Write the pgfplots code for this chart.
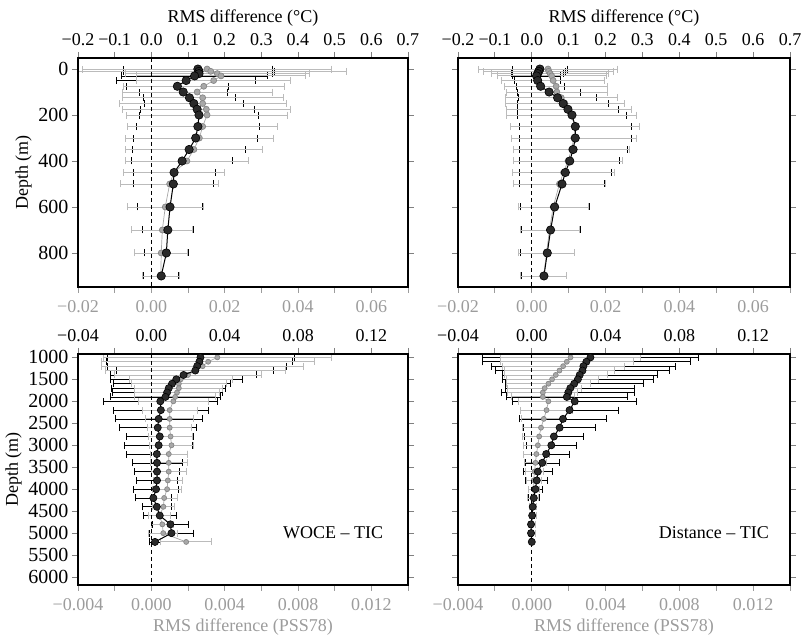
\documentclass[border=0pt]{standalone}
\usepackage{fontspec}
\setmainfont{Liberation Serif}
\usepackage{pgfplots}
\pgfplotsset{compat=1.18}
\usepackage{pgfplotstable}
\definecolor{lg}{HTML}{BBBBBB}
\definecolor{mg}{HTML}{A8A8A8}
\definecolor{tg}{HTML}{9C9C9C}
\definecolor{dk}{HTML}{2A2A2A}

% depth, temperature mean, temp error, salinity mean, salinity error
\pgfplotstableread{
d T Te S Se
0 0.127 0.203 0.0152 0.034
10 0.130 0.205 0.0162 0.037
20 0.130 0.200 0.0180 0.025
30 0.118 0.200 0.0190 0.023
50 0.095 0.190 0.0170 0.021
75 0.071 0.140 0.0143 0.022
100 0.087 0.120 0.0125 0.0205
125 0.104 0.125 0.0140 0.022
150 0.116 0.135 0.0140 0.0228
175 0.125 0.155 0.0150 0.023
200 0.130 0.163 0.0152 0.022
250 0.127 0.168 0.0140 0.0205
300 0.121 0.169 0.0131 0.0202
350 0.103 0.155 0.0116 0.0187
400 0.084 0.137 0.0097 0.0168
450 0.062 0.112 0.0062 0.0137
500 0.060 0.110 0.0050 0.0134
600 0.051 0.088 0.0038 0.0103
700 0.045 0.069 0.0030 0.0083
800 0.041 0.060 0.0027 0.0072
900 0.027 0.048 0.0026 0.0050
}\tabTL

\pgfplotstableread{
d T Te S Se
0 0.022 0.075 0.0044 0.0189
10 0.019 0.072 0.0046 0.0176
20 0.016 0.070 0.0050 0.0158
30 0.013 0.066 0.0054 0.0148
50 0.016 0.062 0.0058 0.0140
75 0.024 0.065 0.0066 0.0139
100 0.047 0.085 0.0068 0.0136
125 0.070 0.105 0.0080 0.0152
150 0.085 0.123 0.0090 0.0162
175 0.098 0.137 0.0100 0.0170
200 0.109 0.148 0.0107 0.0177
250 0.118 0.152 0.0117 0.0174
300 0.118 0.152 0.0114 0.0169
350 0.112 0.146 0.0108 0.0157
400 0.103 0.136 0.0098 0.0148
450 0.091 0.124 0.0086 0.0139
500 0.082 0.115 0.0075 0.0126
600 0.062 0.094 0.0058 0.0095
700 0.051 0.080 0.0048 0.0080
800 0.042 0.073 0.0040 0.0075
900 0.033 0.062 0.0032 0.0063
}\tabTR

\pgfplotstableread{
d T Te S Se
1000 0.0268 0.0510 0.0036 0.0062
1100 0.0262 0.0507 0.0031 0.0058
1200 0.0250 0.0487 0.0028 0.0055
1300 0.0240 0.0428 0.0024 0.0049
1400 0.0176 0.0400 0.0020 0.0040
1500 0.0136 0.0360 0.0016 0.0028
1600 0.0113 0.0320 0.0015 0.0026
1700 0.0095 0.0310 0.0015 0.0024
1800 0.0086 0.0300 0.0014 0.0023
1900 0.0077 0.0300 0.0013 0.0022
2000 0.0049 0.0310 0.0012 0.0019
2200 0.0052 0.0260 0.0010 0.0015
2400 0.0040 0.0237 0.0010 0.0013
2600 0.0035 0.0210 0.0010 0.0012
2800 0.0046 0.0184 0.00105 0.0012
3000 0.0040 0.0184 0.0011 0.0012
3200 0.0030 0.0168 0.00095 0.0010
3400 0.0031 0.0136 0.00095 0.0010
3600 0.0031 0.0122 0.00095 0.00095
3800 0.0031 0.0113 0.0009 0.0008
4000 0.0026 0.0123 0.00086 0.0008
4200 0.0011 0.0099 0.0007 0.0007
4400 0.0030 0.0080 0.00066 0.0006
4600 0.0046 0.0089 0.00045 0.0006
4800 0.0104 0.0096 0.0006 0.0006
5000 0.0110 0.0120 0.00065 0.0008
5200 0.0020 0.0030 0.0019 0.0014
}\tabBL

\pgfplotstableread{
d T Te S Se
1000 0.0318 0.0587 0.0021 0.0038
1100 0.0296 0.0564 0.0019 0.0036
1200 0.0280 0.0500 0.0017 0.0033
1300 0.0275 0.0470 0.0015 0.0030
1400 0.0260 0.0420 0.0013 0.0028
1500 0.0250 0.0410 0.0011 0.0025
1600 0.0230 0.0375 0.0009 0.0023
1700 0.0209 0.0350 0.0007 0.0020
1800 0.0198 0.0360 0.0006 0.0019
1900 0.0190 0.0330 0.0006 0.0017
2000 0.0233 0.0336 0.0009 0.0016
2200 0.0205 0.0264 0.0008 0.0014
2400 0.0169 0.0236 0.00065 0.0012
2600 0.0151 0.0196 0.0005 0.0010
2800 0.0120 0.0158 0.0004 0.0009
3000 0.0106 0.0136 0.00033 0.0008
3200 0.0078 0.0124 0.00025 0.0007
3400 0.0057 0.0094 0.0002 0.0006
3600 0.0033 0.0078 0.00015 0.0005
3800 0.0027 0.0060 0.0001 0.0004
4000 0.0020 0.0040 0.0001 0.0003
4200 0.0011 0.0028 0.00005 0.0003
4400 0.0005 0.0020 0.00005 0.0002
4600 0.0002 0.0015 0.00005 0.0002
4800 -0.0004 0.0010 0.0000 0.0002
5000 -0.0004 0.0008 0.0000 0.0002
5200 0.0000 0.0005 0.0000 0.0001
}\tabBR

\newcommand\fs{\fontsize{18}{21}\selectfont}
\newcommand\fy{\fontsize{20}{23}\selectfont}
\newcommand\fl{\fontsize{18}{21}\selectfont}

\pgfplotsset{
  base/.style={scale only axis, y dir=reverse, tick align=outside,
    major tick length=6pt, minor tick num=0, scaled ticks=false,
    tick style={line width=0.8pt},
    x tick label style={font=\fs}, y tick label style={font=\fy},
    label style={font=\fl}},
  toprow/.style={base, height=229pt, ymin=-48, ymax=948},
  botrow/.style={base, height=231pt, ymin=923, ymax=6180},
  lcol/.style={width=330pt},
  rcol/.style={width=332pt},
  % temperature axes
  Ttop/.style={xmin=-0.2, xmax=0.7},
  Tbot/.style={xmin=-0.04, xmax=0.14},
  % salinity axes
  Stop/.style={xmin=-0.02, xmax=0.07,
    xtick={-0.02,-0.01,0,0.01,0.02,0.03,0.04,0.05,0.06,0.07},
    xticklabels={−0.02,,0.00,,0.02,,0.04,,0.06,}},
  Sbot/.style={xmin=-0.004, xmax=0.014,
    xtick={-0.004,-0.002,0,0.002,0.004,0.006,0.008,0.010,0.012,0.014},
    xticklabels={−0.004,,0.000,,0.004,,0.008,,0.012,}},
  hidden/.style={hide axis},
  salax/.style={axis x line*=bottom, axis y line=none,
    x axis line style={draw=none},
    xtick style={draw=tg, line width=0.8pt},
    x tick label style={text=tg, yshift=-4pt},
    x label style={text=tg, yshift=-1pt}},
  mainax/.style={axis line style={line width=1.4pt},
    xtick pos=right, xticklabel pos=right, ytick pos=both, yticklabel pos=left,
    x tick label style={yshift=3pt}},
  Tticks top/.style={xtick={-0.2,-0.1,0,0.1,0.2,0.3,0.4,0.5,0.6,0.7},
    xticklabels={−0.2,−0.1,0.0,0.1,0.2,0.3,0.4,0.5,0.6,0.7}},
  Tticks bot/.style={xtick={-0.04,-0.02,0,0.02,0.04,0.06,0.08,0.10,0.12,0.14},
    xticklabels={−0.04,,0.00,,0.04,,0.08,,0.12,}},
  Yticks top/.style={ytick={0,200,400,600,800}},
  Yticks bot/.style={ytick={1000,1500,2000,2500,3000,3500,4000,4500,5000,5500,6000}},
  errT/.style={draw=none, mark=none, error bars/.cd, x dir=both, x explicit,
    error mark=|,
    error bar style={draw=black, line width=0.6pt},
    error mark options={draw=black, line width=0.9pt, mark size=3.5pt}},
  errS/.style={draw=none, mark=none, error bars/.cd, x dir=both, x explicit,
    error mark=|,
    error bar style={draw=lg, line width=0.9pt},
    error mark options={draw=lg, line width=0.9pt, mark size=3.5pt}},
  lineS/.style={draw=mg, line width=0.7pt, mark=*, mark size=3pt,
    mark options={fill=mg, draw=mg!80!black}},
  lineT/.style={draw=black, line width=1pt, mark=*, mark size=4.2pt,
    mark options={fill=dk, draw=black, line width=0.6pt}},
  zeroline/.style={black, dashed, line width=1pt, dash pattern=on 4pt off 3pt}
}

\begin{document}
\begin{tikzpicture}[font=\fs]
\useasboundingbox (0,0) rectangle (803pt,636pt);

% ================= top-left
\begin{axis}[toprow, lcol, Ttop, hidden, at={(78pt,349pt)}, anchor=south west]
\addplot[errT] table[x=T, y=d, x error=Te] {\tabTL};
\end{axis}
\begin{axis}[toprow, lcol, Stop, salax, at={(78pt,349pt)}, anchor=south west]
\addplot[errS] table[x=S, y=d, x error=Se] {\tabTL};
\addplot[lineS] table[x=S, y=d] {\tabTL};
\end{axis}
\begin{axis}[toprow, lcol, Ttop, mainax, Tticks top, Yticks top,
  yticklabels={0,200,400,600,800},
  xlabel={RMS difference (°C)}, ylabel={Depth (m)},
  at={(78pt,349pt)}, anchor=south west]
\addplot[zeroline] coordinates {(0,-48) (0,948)};
\addplot[lineT] table[x=T, y=d] {\tabTL};
\end{axis}

% ================= top-right
\begin{axis}[toprow, rcol, Ttop, hidden, at={(458pt,349pt)}, anchor=south west]
\addplot[errT] table[x=T, y=d, x error=Te] {\tabTR};
\end{axis}
\begin{axis}[toprow, rcol, Stop, salax, at={(458pt,349pt)}, anchor=south west]
\addplot[errS] table[x=S, y=d, x error=Se] {\tabTR};
\addplot[lineS] table[x=S, y=d] {\tabTR};
\end{axis}
\begin{axis}[toprow, rcol, Ttop, mainax, Tticks top, Yticks top,
  yticklabels={},
  xlabel={RMS difference (°C)},
  at={(458pt,349pt)}, anchor=south west]
\addplot[zeroline] coordinates {(0,-48) (0,948)};
\addplot[lineT] table[x=T, y=d] {\tabTR};
\end{axis}

% ================= bottom-left
\begin{axis}[botrow, lcol, Tbot, hidden, at={(78pt,51pt)}, anchor=south west]
\addplot[errT] table[x=T, y=d, x error=Te] {\tabBL};
\end{axis}
\begin{axis}[botrow, lcol, Sbot, salax, xlabel={RMS difference (PSS78)},
  at={(78pt,51pt)}, anchor=south west]
\addplot[errS] table[x=S, y=d, x error=Se] {\tabBL};
\addplot[lineS, mark size=2.5pt] table[x=S, y=d] {\tabBL};
\end{axis}
\begin{axis}[botrow, lcol, Tbot, mainax, Tticks bot, Yticks bot,
  yticklabels={1000,1500,2000,2500,3000,3500,4000,4500,5000,5500,6000},
  ylabel={Depth (m)},
  at={(78pt,51pt)}, anchor=south west]
\addplot[zeroline] coordinates {(0,923) (0,6180)};
\addplot[lineT, mark size=3.6pt] table[x=T, y=d] {\tabBL};
\node[font=\fl] at (axis description cs:0.773,0.225) {WOCE -- TIC};
\end{axis}

% ================= bottom-right
\begin{axis}[botrow, rcol, Tbot, hidden, at={(458pt,51pt)}, anchor=south west]
\addplot[errT] table[x=T, y=d, x error=Te] {\tabBR};
\end{axis}
\begin{axis}[botrow, rcol, Sbot, salax, xlabel={RMS difference (PSS78)},
  at={(458pt,51pt)}, anchor=south west]
\addplot[errS] table[x=S, y=d, x error=Se] {\tabBR};
\addplot[lineS, mark size=2.5pt] table[x=S, y=d] {\tabBR};
\end{axis}
\begin{axis}[botrow, rcol, Tbot, mainax, Tticks bot, Yticks bot,
  yticklabels={},
  at={(458pt,51pt)}, anchor=south west]
\addplot[zeroline] coordinates {(0,923) (0,6180)};
\addplot[lineT, mark size=3.6pt] table[x=T, y=d] {\tabBR};
\node[font=\fl] at (axis description cs:0.771,0.225) {Distance -- TIC};
\end{axis}
\end{tikzpicture}
\end{document}
